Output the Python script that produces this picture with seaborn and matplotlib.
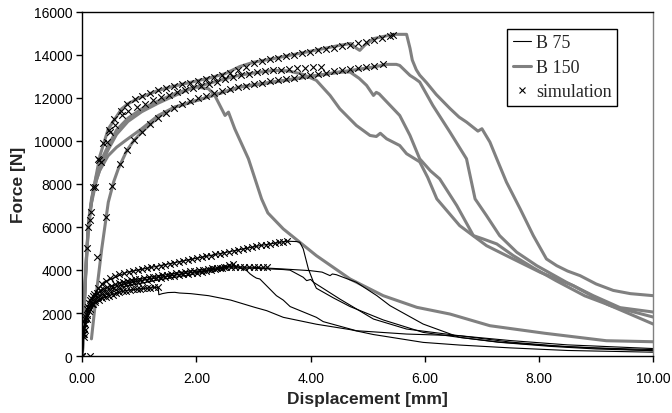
import matplotlib
matplotlib.use("Agg")
import matplotlib.pyplot as plt
from matplotlib.lines import Line2D
import seaborn as sns

# ---------------- data ----------------
# B 150 experiments (grey, thick)
A_x = [0, 0.02, 0.05, 0.105, 0.15, 0.22, 0.31, 0.455, 0.69, 0.8, 1.0, 1.33, 1.62, 1.92, 2.2, 2.5, 2.76, 3.0,
       3.34, 3.63, 3.93, 4.22, 4.51, 4.7, 4.8, 4.86, 4.95, 5.1, 5.3, 5.45, 5.68, 5.74, 5.78, 5.85, 5.91, 6.03,
       6.2, 6.44, 6.6, 6.73, 6.93, 7.0, 7.14, 7.26, 7.43, 7.58, 7.67, 7.9, 8.13, 8.31, 8.5, 8.72, 9.0, 9.3,
       9.6, 10.0]
A_y = [0, 1500, 3500, 6060, 7000, 8078, 9316, 10558, 11488, 11720, 12000, 12340, 12550, 12730, 12900, 13116,
       13450, 13650, 13813, 13970, 14124, 14280, 14434, 14520, 14300, 14200, 14450, 14744, 14860, 14945, 14945,
       14300, 13750, 13300, 13050, 12700, 12150, 11500, 11100, 10870, 10450, 10560, 9940, 9163, 8079, 7302,
       6837, 5596, 4512, 4200, 3950, 3735, 3350, 3050, 2900, 2806]

B_x = [0.16, 0.25, 0.34, 0.455, 0.55, 0.63, 0.78, 0.905, 1.04, 1.19, 1.33, 1.62, 2.2, 2.76, 3.35, 3.93, 4.51,
       5.1, 5.33, 5.5, 5.56, 5.74, 5.83, 5.91, 6.14, 6.44, 6.73, 6.88, 7.08, 7.31, 7.61, 7.96, 8.48, 8.95,
       9.42, 10.0]
B_y = [800, 3000, 4977, 7148, 8100, 8697, 9550, 10014, 10403, 10760, 11100, 11565, 12030, 12500, 12730, 12963,
       13194, 13426, 13550, 13550, 13500, 13037, 12884, 12730, 11643, 10403, 9163, 7302, 6525, 5596, 4823,
       4200, 3428, 2806, 2250, 2046]

C_x = [0, 0.03, 0.07, 0.12, 0.2, 0.3, 0.45, 0.6, 0.75, 1.04, 1.33, 1.62, 2.2, 2.76, 3.35, 3.93, 4.51, 4.69,
       4.85, 4.98, 5.1, 5.15, 5.2, 5.3, 5.56, 5.74, 5.91, 6.1, 6.26, 6.56, 6.85, 7.02, 7.26, 7.55, 7.9, 8.3,
       8.8, 9.3, 10.0]
C_y = [0, 2000, 4500, 6500, 7800, 8600, 9300, 9700, 10000, 10558, 11177, 11565, 12030, 12500, 12730, 12963,
       13194, 13194, 12900, 12573, 12107, 12250, 12180, 11900, 11177, 10248, 9163, 8600, 8232, 6990, 5596,
       5441, 5209, 4665, 4100, 3500, 2800, 2300, 1813]

D_x = [0, 0.02, 0.06, 0.1, 0.16, 0.25, 0.35, 0.455, 0.6, 0.8, 1.04, 1.33, 1.62, 1.92, 2.2, 2.5, 2.76, 3.0,
       3.35, 3.6, 3.85, 4.1, 4.34, 4.51, 4.8, 5.04, 5.15, 5.22, 5.33, 5.56, 5.68, 5.91, 6.05, 6.21, 6.61,
       7.08, 7.43, 8.02, 8.6, 9.2, 10.0]
D_y = [0, 1500, 4000, 5900, 7300, 8400, 9200, 9781, 10500, 11050, 11488, 11850, 12186, 12450, 12651, 12880,
       13050, 13150, 13270, 13250, 13100, 12806, 12107, 11488, 10713, 10248, 10200, 10350, 10093, 9781, 9400,
       9023, 8300, 7302, 6060, 5130, 4665, 3893, 3270, 2400, 1488]

E_x = [0, 0.02, 0.06, 0.1, 0.16, 0.25, 0.35, 0.455, 0.6, 0.8, 1.04, 1.33, 1.62, 1.97, 2.21, 2.32, 2.5, 2.56,
       2.67, 2.91, 3.14, 3.25, 3.52, 4.1, 4.69, 5.27, 5.86, 6.44, 7.14, 8.1, 9.18, 10.0]
E_y = [0, 1400, 3800, 5700, 7100, 8200, 9000, 9600, 10300, 10900, 11350, 11750, 12100, 12510, 12418, 12107,
       11177, 11332, 10558, 9163, 7302, 6650, 5907, 4665, 3581, 2806, 2264, 1953, 1410, 1060, 713, 666]

# B 75 experiments (black, thin)
P_x = [0, 0.02, 0.08, 0.19, 0.37, 0.78, 1.36, 1.94, 2.53, 3.11, 3.58, 3.75, 3.81, 3.87, 3.96, 4.05, 4.1,
       4.4, 4.69, 5.27, 5.97, 6.61, 7.3, 8.2, 9.0, 10.0]
P_y = [0, 1200, 2186, 2806, 3428, 3893, 4200, 4512, 4823, 5130, 5335, 5320, 5287, 4977, 4046, 3428, 3150,
       2700, 2300, 1680, 1100, 868, 650, 480, 380, 300]

R_x = [0, 0.03, 0.1, 0.2, 0.37, 0.78, 1.36, 1.94, 2.53, 2.99, 3.52, 3.99, 4.2, 4.34, 4.38, 4.45, 4.8, 5.16,
       5.39, 5.97, 6.61, 7.3, 8.2, 9.0, 10.0]
R_y = [0, 1300, 2200, 2700, 3116, 3504, 3736, 3969, 4150, 4124, 4046, 3969, 3900, 3736, 3814, 3780, 3428,
       2806, 2341, 1488, 868, 640, 450, 330, 250]

Q_x = [0, 0.03, 0.1, 0.2, 0.37, 0.78, 1.36, 1.94, 2.53, 2.99, 3.52, 3.64, 3.87, 3.93, 4.0, 4.05, 4.51, 5.1,
       5.68, 6.61, 7.5, 8.5, 10.0]
Q_y = [0, 1200, 2100, 2600, 3000, 3400, 3650, 3900, 4100, 4080, 4020, 3990, 3660, 3504, 3560, 3428, 2651,
       1720, 1256, 944, 650, 430, 250]

S_x = [0, 0.03, 0.1, 0.2, 0.37, 0.78, 1.36, 1.94, 2.4, 2.64, 2.76, 2.88, 2.94, 3.0, 3.05, 3.11, 3.4, 3.52,
       3.64, 4.1, 4.22, 4.8, 5.68, 6.61, 7.5, 8.5, 10.0]
S_y = [0, 1100, 1900, 2400, 2800, 3250, 3550, 3800, 4050, 4250, 4100, 3969, 3814, 3700, 3620, 3581, 2806,
       2600, 2300, 1800, 1600, 1178, 1023, 944, 720, 520, 350]

T_x = [0, 0.02, 0.05, 0.1, 0.22, 0.455, 0.75, 1.0, 1.2, 1.33, 1.34, 1.4, 1.5, 1.62, 1.7, 1.9, 2.21, 2.6,
       3.02, 3.23, 3.52, 4.1, 4.69, 5.1, 5.27, 5.97, 6.61, 7.5, 8.5, 10.0]
T_y = [0, 900, 1567, 2000, 2496, 2806, 3038, 3120, 3170, 3195, 2850, 2900, 2950, 2961, 2930, 2900, 2806,
       2600, 2264, 2109, 1800, 1480, 1230, 1000, 930, 636, 512, 380, 260, 180]

# simulation results (x markers)
simA_x = [0, 0.035, 0.105, 0.147, 0.22, 0.29, 0.37, 0.46, 0.56, 0.67, 0.79, 0.92, 1.05, 1.19, 1.33, 1.47,
          1.61, 1.75, 1.89, 2.03, 2.17, 2.31, 2.45, 2.59, 2.73, 2.87, 3.01, 3.15, 3.29, 3.43, 3.57, 3.71,
          3.85, 3.99, 4.13, 4.27, 4.41, 4.55, 4.69, 4.83, 4.97, 5.11, 5.25, 5.39, 5.45]
simA_y = [0, 1023, 5984, 6680, 7845, 9085, 9900, 10500, 11000, 11400, 11720, 11950, 12100, 12230, 12340,
          12430, 12530, 12620, 12700, 12780, 12880, 12980, 13070, 13170, 13300, 13450, 13600, 13700, 13780,
          13850, 13920, 13990, 14060, 14130, 14200, 14260, 14330, 14400, 14460, 14530, 14600, 14680, 14760,
          14850, 14900]

simM_x = [0, 0.03, 0.09, 0.13, 0.19, 0.27, 0.33, 0.43, 0.485, 0.57, 0.69, 0.8, 0.96, 1.1, 1.24, 1.38, 1.52,
          1.66, 1.8, 1.94, 2.08, 2.22, 2.36, 2.5, 2.64, 2.78, 2.92, 3.06, 3.2, 3.34, 3.48, 3.62, 3.76, 3.9,
          4.04, 4.18]
simM_y = [0, 900, 5000, 6300, 7845, 9163, 9008, 9937, 10403, 10713, 11177, 11400, 11550, 11700, 11900,
          12050, 12150, 12250, 12350, 12450, 12550, 12651, 12750, 12850, 12950, 13050, 13116, 13180, 13230,
          13270, 13300, 13330, 13360, 13390, 13420, 13450]

simL_x = [0.135, 0.25, 0.41, 0.525, 0.66, 0.78, 0.905, 1.04, 1.19, 1.33, 1.47, 1.61, 1.75, 1.89, 2.03, 2.17,
          2.31, 2.45, 2.59, 2.73, 2.87, 3.01, 3.15, 3.29, 3.43, 3.57, 3.71, 3.85, 3.99, 4.13, 4.27, 4.41,
          4.55, 4.69, 4.83, 4.97, 5.11, 5.27]
simL_y = [0, 4590, 6450, 7920, 8930, 9550, 10014, 10403, 10760, 11050, 11300, 11520, 11700, 11850, 11980,
          12100, 12200, 12300, 12400, 12480, 12560, 12630, 12700, 12760, 12820, 12880, 12940, 13000, 13060,
          13120, 13170, 13220, 13270, 13320, 13380, 13430, 13490, 13550]

simP_x = [0, 0.02, 0.05, 0.08, 0.12, 0.16, 0.21, 0.27, 0.34, 0.41, 0.49, 0.57, 0.65, 0.73, 0.81, 0.89, 0.97,
          1.05, 1.13, 1.21, 1.29, 1.37, 1.45, 1.53, 1.61, 1.69, 1.77, 1.85, 1.93, 2.01, 2.09, 2.17, 2.25,
          2.33, 2.41, 2.49, 2.57, 2.65, 2.73, 2.81, 2.89, 2.97, 3.05, 3.13, 3.21, 3.29, 3.37, 3.45, 3.52, 3.58]
simP_y = [0, 1023, 1700, 2186, 2450, 2700, 2900, 3150, 3370, 3500, 3620, 3720, 3800, 3860, 3910, 3960, 4000,
          4040, 4080, 4120, 4160, 4200, 4240, 4290, 4330, 4380, 4420, 4460, 4510, 4550, 4590, 4630, 4670,
          4720, 4760, 4800, 4840, 4880, 4930, 4970, 5010, 5060, 5100, 5140, 5180, 5220, 5250, 5290, 5320, 5335]

simQ_x = [0.03, 0.06, 0.1, 0.14, 0.19, 0.25, 0.31, 0.37, 0.44, 0.51, 0.58, 0.65, 0.72, 0.79, 0.86, 0.93,
          1.0, 1.08, 1.16, 1.24, 1.32, 1.4, 1.48, 1.56, 1.64, 1.72, 1.8, 1.88, 1.96, 2.04, 2.12, 2.2, 2.28,
          2.36, 2.44, 2.52, 2.6, 2.68, 2.76, 2.84, 2.92, 3.0, 3.08, 3.16, 3.23]
simQ_y = [1300, 1800, 2300, 2600, 2800, 2950, 3050, 3116, 3200, 3270, 3340, 3400, 3450, 3500, 3540, 3570,
          3600, 3630, 3660, 3690, 3720, 3750, 3780, 3810, 3840, 3870, 3900, 3930, 3960, 3990, 4020, 4050, 4070,
          4090, 4110, 4130, 4150, 4150, 4140, 4140, 4130, 4130, 4125, 4125, 4124]

simS_x = [0.04, 0.08, 0.12, 0.17, 0.22, 0.28, 0.34, 0.41, 0.48, 0.55, 0.62, 0.69, 0.76, 0.83, 0.9, 0.97,
          1.05, 1.13, 1.21, 1.29, 1.37, 1.45, 1.53, 1.61, 1.69, 1.77, 1.85, 1.93, 2.01, 2.09, 2.17, 2.25, 2.33,
          2.41, 2.49, 2.57, 2.64]
simS_y = [1200, 1700, 2100, 2400, 2600, 2750, 2870, 2980, 3070, 3150, 3220, 3280, 3330, 3380, 3420, 3460,
          3500, 3540, 3580, 3610, 3640, 3670, 3700, 3730, 3760, 3790, 3820, 3850, 3880, 3910, 3950, 3990, 4030,
          4080, 4150, 4230, 4279]

simT_x = [0.05, 0.09, 0.13, 0.18, 0.23, 0.29, 0.35, 0.41, 0.47, 0.53, 0.59, 0.65, 0.71, 0.77, 0.83, 0.89,
          0.95, 1.01, 1.07, 1.13, 1.19, 1.25, 1.33]
simT_y = [1500, 1900, 2200, 2400, 2500, 2600, 2680, 2750, 2806, 2860, 2910, 2960, 3000, 3038, 3070, 3095,
          3115, 3135, 3150, 3165, 3180, 3190, 3195]

b150_curves = [(A_x, A_y), (B_x, B_y), (C_x, C_y), (D_x, D_y), (E_x, E_y)]
b75_curves = [(P_x, P_y), (R_x, R_y), (Q_x, Q_y), (S_x, S_y), (T_x, T_y)]
sim_curves = [(simA_x, simA_y), (simM_x, simM_y), (simL_x, simL_y), (simP_x, simP_y),
              (simQ_x, simQ_y), (simS_x, simS_y), (simT_x, simT_y)]

x_ticks = [0, 2, 4, 6, 8, 10]
x_ticklabels = ["0.00", "2.00", "4.00", "6.00", "8.00", "10.00"]
y_ticks = [0, 2000, 4000, 6000, 8000, 10000, 12000, 14000, 16000]
legend_labels = ["B 75", "B 150", "simulation"]

# ---------------- plotting ----------------
sns.set_theme(style="white")
plt.rcParams["font.family"] = ["Liberation Sans", "DejaVu Sans"]

GREY = "#808080"
fig = plt.figure(figsize=(6.72, 4.14), dpi=100)
ax = fig.add_axes([0.1225, 0.1375, 0.8495, 0.832])

for cx, cy in b150_curves:
    sns.lineplot(x=cx, y=cy, ax=ax, color=GREY, linewidth=2.2, sort=False, estimator=None)
for cx, cy in b75_curves:
    sns.lineplot(x=cx, y=cy, ax=ax, color="black", linewidth=0.8, sort=False, estimator=None)
for cx, cy in sim_curves:
    sns.scatterplot(x=cx, y=cy, ax=ax, marker="x", color="black", s=22, linewidth=0.8, zorder=5)

ax.set_xlim(0, 10)
ax.set_ylim(0, 16000)
ax.set_xticks(x_ticks)
ax.set_xticklabels(x_ticklabels)
ax.set_yticks(y_ticks)
ax.set_yticklabels([str(v) for v in y_ticks])
ax.tick_params(axis="both", which="major", direction="out", length=4, width=1, color="black",
               labelsize=10, labelcolor="black", bottom=True, left=True, pad=3)
ax.tick_params(axis="x", pad=7)

for side in ["left", "bottom", "top"]:
    ax.spines[side].set_color("black")
    ax.spines[side].set_linewidth(1.0)
ax.spines["right"].set_color(GREY)
ax.spines["right"].set_linewidth(1.0)
ax.grid(False)

ax.set_xlabel("Displacement [mm]", fontsize=12.5, fontweight="bold", labelpad=4)
ax.set_ylabel("Force [N]", fontsize=12.5, fontweight="bold", labelpad=6)

handles = [Line2D([0], [0], color="black", linewidth=0.8),
           Line2D([0], [0], color=GREY, linewidth=2.2),
           Line2D([0], [0], color="black", linestyle="none", marker="x", markersize=4, markeredgewidth=0.8)]
leg = ax.legend(handles, legend_labels, loc="upper right", bbox_to_anchor=(0.937, 0.95), borderaxespad=0,
                frameon=True, fancybox=False, edgecolor="black", framealpha=1, handlelength=1.0,
                handletextpad=0.3, labelspacing=0.42, borderpad=0.3,
                prop={"family": ["Liberation Serif", "DejaVu Serif"], "size": 13})
leg.get_frame().set_linewidth(1.0)

fig.savefig("out.png", dpi=100)
